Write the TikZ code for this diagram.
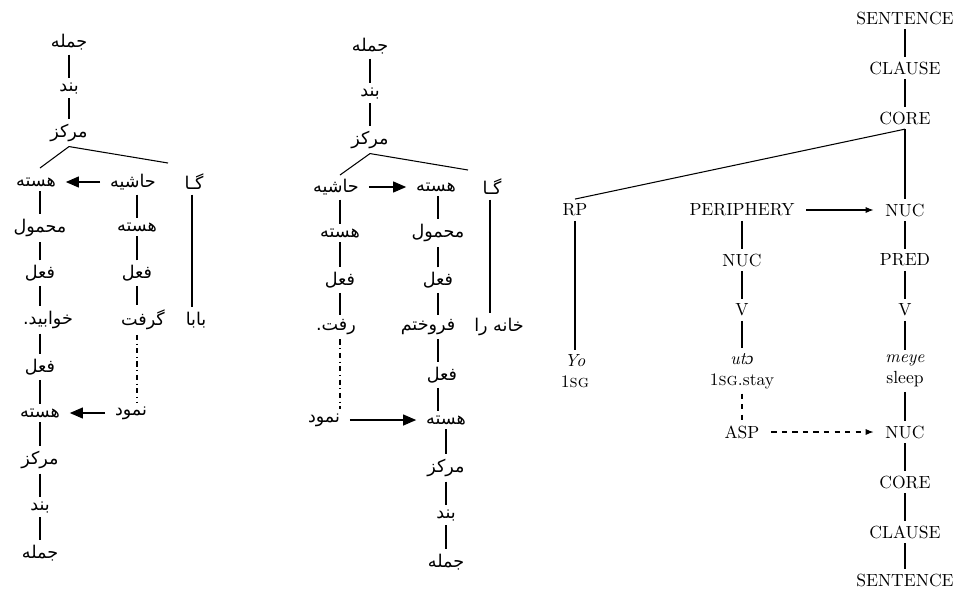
\documentclass[tikz,border=0pt]{standalone}
\usepackage{fontspec}
\newfontfamily\arabicfont[Script=Arabic]{DejaVu Sans}
\newfontfamily\ipafont{Liberation Serif}
\TeXXeTstate=1
\usetikzlibrary{arrows.meta,positioning}
\newcommand\prs[1]{{\arabicfont\beginR #1\endR}}
\tikzset{
  treeedge/.style={semithick},
  treearr/.style={-{Triangle[length=2.6mm,width=2.2mm]}, semithick, shorten <=3pt, shorten >=3pt},
  rrgarr/.style={-{Latex[length=1.6mm]}, semithick, shorten <=4pt, shorten >=4pt},
  falbl/.style={inner sep=2.5pt, font=\fontsize{10}{12}\selectfont},
  rrglbl/.style={inner sep=2.5pt, font=\fontsize{10}{12}\selectfont, align=center},
}

\begin{document}
\begin{tikzpicture}[x=0.2mm, y=-0.2mm]
  \useasboundingbox (0,0) rectangle (958,589);

  % tree 1
  \node[falbl] (t1s) at (69,42) {\prs{جمله}};
  \node[falbl] (t1c) at (69,88) {\prs{بند}};
  \node[falbl] (t1m) at (69,133) {\prs{مرکز}};
  \coordinate (t1l) at (40,168);
  \coordinate (t1r) at (168,163);

  \node[falbl] (t1h1) at (36,182) {\prs{هسته}};
  \node[falbl] (t1p) at (40,228) {\prs{محمول}};
  \node[falbl] (t1v1) at (40,273) {\prs{فعل}};
  \node[falbl] (t1w) at (48,320) {\prs{خوابید.}};
  \node[falbl] (t1v2) at (40,367) {\prs{فعل}};
  \node[falbl] (t1h2) at (40,413) {\prs{هسته}};
  \node[falbl] (t1m2) at (40,460) {\prs{مرکز}};
  \node[falbl] (t1c2) at (40,507) {\prs{بند}};
  \node[falbl] (t1s2) at (40,553) {\prs{جمله}};

  \node[falbl] (t1a) at (133,182) {\prs{حاشیه}};
  \node[falbl] (t1ah) at (137,227) {\prs{هسته}};
  \node[falbl] (t1av) at (137,273) {\prs{فعل}};
  \node[falbl] (t1g) at (143,320) {\prs{گرفت}};
  \node[falbl] (t1n) at (131,413) {\prs{نمود}};

  \node[falbl] (t1np) at (194,182) {\prs{گـا}};
  \node[falbl] (t1b) at (196,320) {\prs{بابا}};

  \draw[treeedge] (t1s) -- (t1c) -- (t1m);
  \draw[treeedge] (t1l) -- (t1m.south) -- (t1r);
  \foreach \a/\b in {t1v1/t1p,t1v2/t1h2,t1h2/t1m2,t1m2/t1c2,t1c2/t1s2,t1av/t1ah}
    \draw[treeedge] (\a) -- (\b);
  % vertical drops where the label sits off its line
  \draw[treeedge] (t1p |- t1h1.south) -- (t1p);
  \draw[treeedge] (t1v1) -- (t1v1 |- t1w.north);
  \draw[treeedge] (t1v2 |- t1w.south) -- (t1v2);
  \draw[treeedge] (t1ah |- t1a.south) -- (t1ah);
  \draw[treeedge] (t1av) -- (t1av |- t1g.north);
  \draw[treeedge, dashdotted] (t1av |- t1g.south) -- (t1av |- t1n.north);
  \draw[treeedge] (t1np.south -| 192,0) -- (t1b.north -| 192,0);
  \draw[treearr] (t1a) -- (t1h1);
  \draw[treearr] (t1n) -- (t1h2);

  % tree 2
  \node[falbl] (t2s) at (370,46) {\prs{جمله}};
  \node[falbl] (t2c) at (370,93) {\prs{بند}};
  \node[falbl] (t2m) at (370,140) {\prs{مرکز}};
  \coordinate (t2l) at (340,175);
  \coordinate (t2r) at (468,170);

  \node[falbl] (t2a) at (336,187) {\prs{حاشیه}};
  \node[falbl] (t2ah) at (340,233) {\prs{هسته}};
  \node[falbl] (t2av) at (340,280) {\prs{فعل}};
  \node[falbl] (t2w) at (336,327) {\prs{رفت.}};
  \node[falbl] (t2n) at (324,420) {\prs{نمود}};

  \node[falbl] (t2h1) at (436,187) {\prs{هسته}};
  \node[falbl] (t2p) at (438,233) {\prs{محمول}};
  \node[falbl] (t2v1) at (438,280) {\prs{فعل}};
  \node[falbl] (t2f) at (428,327) {\prs{فروختم}};
  \node[falbl] (t2v2) at (442,375) {\prs{فعل}};
  \node[falbl] (t2h2) at (446,420) {\prs{هسته}};
  \node[falbl] (t2m2) at (446,468) {\prs{مرکز}};
  \node[falbl] (t2c2) at (446,515) {\prs{بند}};
  \node[falbl] (t2s2) at (446,562) {\prs{جمله}};

  \node[falbl] (t2np) at (492,187) {\prs{گـا}};
  \node[falbl] (t2k) at (499,327) {\prs{خانه را}};

  \draw[treeedge] (t2s) -- (t2c) -- (t2m);
  \draw[treeedge] (t2l) -- (t2m.south) -- (t2r);
  \foreach \a/\b in {t2ah/t2av,t2v1/t2p,t2h2/t2m2,t2m2/t2c2,t2c2/t2s2}
    \draw[treeedge] (\a) -- (\b);
  \draw[treeedge] (t2ah |- t2a.south) -- (t2ah);
  \draw[treeedge] (t2av) -- (t2av |- t2w.north);
  \draw[treeedge] (t2p |- t2h1.south) -- (t2p);
  \draw[treeedge] (t2v1) -- (t2v1 |- t2f.north);
  \draw[treeedge] (t2v1 |- t2f.south) -- (t2v1 |- t2v2.north);
  \draw[treeedge] (t2v1 |- t2v2.south) -- (t2v1 |- t2h2.north);
  \draw[treeedge] (t2np.south -| 490,0) -- (t2k.north -| 490,0);
  \draw[treeedge, dashdotted] (t2av |- t2w.south) -- (t2av |- t2n.north);
  \draw[treearr] (t2a) -- (t2h1);
  \draw[treearr] (t2n) -- (t2h2);

  % tree 3
  \node[rrglbl] (s1) at (905,18) {SENTENCE};
  \node[rrglbl] (cl1) at (905,68) {CLAUSE};
  \node[rrglbl] (co1) at (905,118) {CORE};
  \node[rrglbl] (rp) at (575,210) {RP};
  \node[rrglbl] (yo) at (575,371) {\textit{Yo}\\1\textsc{sg}};
  \node[rrglbl] (per) at (742,210) {PERIPHERY};
  \node[rrglbl] (pnuc) at (742,260) {NUC};
  \node[rrglbl] (pv) at (742,310) {V};
  \node[rrglbl] (uto) at (742,371) {\textit{ut{\ipafont ɔ}}\\1\textsc{sg}.stay};
  \node[rrglbl] (asp) at (742,432) {ASP};
  \node[rrglbl] (nuc1) at (905,210) {NUC};
  \node[rrglbl] (pred) at (905,260) {PRED};
  \node[rrglbl] (v1) at (905,310) {V};
  \node[rrglbl] (meye) at (905,371) {\textit{meye}\\sleep};
  \node[rrglbl] (nuc2) at (905,432) {NUC};
  \node[rrglbl] (co2) at (905,482) {CORE};
  \node[rrglbl] (cl2) at (905,532) {CLAUSE};
  \node[rrglbl] (s2) at (905,580) {SENTENCE};

  \draw[treeedge] (s1) -- (cl1) -- (co1) -- (nuc1);
  \draw[treeedge] (co1.south) -- (rp.north);
  \foreach \a/\b in {rp/yo,per/pnuc,pnuc/pv,pv/uto,nuc1/pred,pred/v1,v1/meye,meye/nuc2,nuc2/co2,co2/cl2,cl2/s2}
    \draw[treeedge] (\a) -- (\b);
  \draw[treeedge, dashed] (uto) -- (asp);
  \draw[rrgarr] (per) -- (nuc1);
  \draw[rrgarr, dashed] (asp) -- (nuc2);
\end{tikzpicture}
\end{document}
